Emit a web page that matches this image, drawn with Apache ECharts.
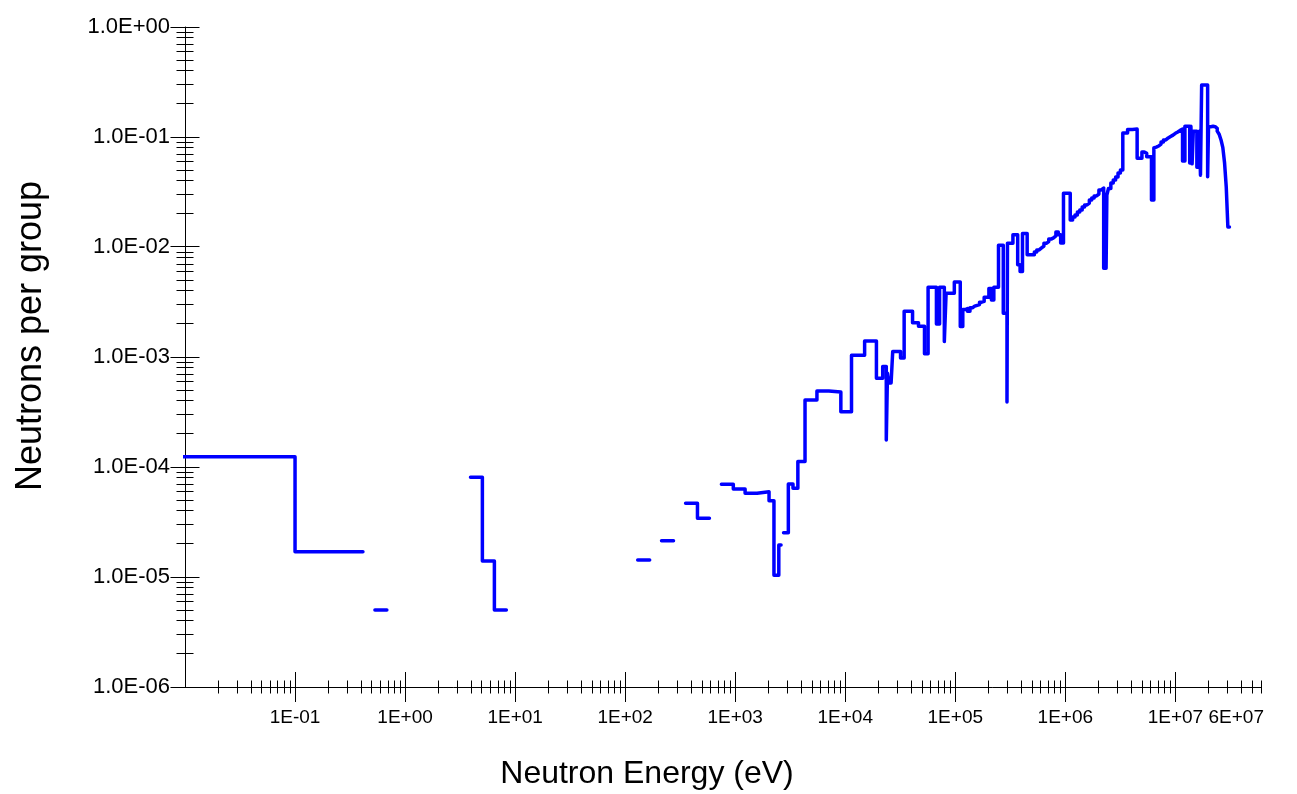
<!DOCTYPE html>
<html>
<head>
<meta charset="utf-8">
<title>Neutrons per group</title>
<script src="https://cdn.jsdelivr.net/npm/echarts@6/dist/echarts.min.js"></script>
<style>
  html, body { margin: 0; padding: 0; background: #fff; }
  #chart { width: 1297px; height: 794px; }
</style>
</head>
<body>
<div id="chart"></div>
<script>
// Group spectrum: [lower group edge (eV), neutrons in the group]; 0 = empty group.
const spectrum = [
  [1e-5, 1.24e-4], [0.1, 1.70e-5], [0.414, 0], [0.532, 5.0e-6], [0.683, 0],
  [3.93, 8.05e-5], [5.04, 1.40e-5], [6.48, 5.0e-6], [8.32, 0],
  [130, 1.43e-5], [167, 0], [214, 2.14e-5], [275, 0], [354, 4.68e-5], [454, 3.42e-5], [583, 0],
  [749, 6.96e-5], [961, 6.3e-5], [1230, 5.77e-5], [1580, 5.96e-5], [2030, 4.94e-5],
  [2250, 1.04e-5], [2490, 1.95e-5], [2610, 0], [2750, 2.53e-5], [3040, 7.0e-5], [3350, 6.4e-5],
  [3710, 1.12e-4], [4310, 4.06e-4], [5530, 4.9e-4], [7100, 4.8e-4], [9120, 3.18e-4],
  [1.14e4, 1.04e-3], [1.5e4, 1.40e-3], [1.92e4, 6.4e-4], [2.19e4, 8.2e-4], [2.36e4, 1.76e-4],
  [2.42e4, 7.1e-4], [2.48e4, 5.8e-4], [2.61e4, 5.6e-4], [2.70e4, 1.12e-3], [2.85e4, 1.12e-3],
  [3.18e4, 9.8e-4], [3.43e4, 2.6e-3], [4.09e4, 2.05e-3], [4.63e4, 1.9e-3], [5.25e4, 1.07e-3],
  [5.66e4, 4.3e-3], [6.74e4, 2.0e-3], [7.20e4, 4.3e-3], [7.95e4, 1.38e-3], [8.25e4, 3.8e-3],
  [8.65e4, 3.8e-3], [9.80e4, 4.8e-3], [1.11e5, 1.89e-3], [1.17e5, 2.7e-3], [1.23e5, 2.75e-3],
  [1.29e5, 2.6e-3], [1.36e5, 2.8e-3], [1.43e5, 2.9e-3], [1.50e5, 2.95e-3], [1.58e5, 3.0e-3],
  [1.66e5, 3.15e-3], [1.74e5, 3.2e-3], [1.83e5, 3.5e-3], [1.93e5, 3.5e-3], [2.02e5, 4.2e-3],
  [2.13e5, 3.3e-3], [2.24e5, 4.3e-3], [2.35e5, 4.3e-3], [2.47e5, 1.04e-2], [2.73e5, 2.5e-3],
  [2.95e5, 3.9e-4], [2.98e5, 1.08e-2], [3.34e5, 1.29e-2], [3.69e5, 6.9e-3], [3.88e5, 6.0e-3],
  [4.08e5, 1.33e-2], [4.50e5, 8.5e-3], [4.98e5, 8.5e-3], [5.23e5, 9.0e-3], [5.50e5, 9.4e-3],
  [5.78e5, 9.8e-3], [6.08e5, 1.02e-2], [6.39e5, 1.08e-2], [6.72e5, 1.12e-2], [7.07e5, 1.18e-2],
  [7.43e5, 1.21e-2], [7.81e5, 1.26e-2], [8.21e5, 1.37e-2], [8.63e5, 1.29e-2], [9.07e5, 1.09e-2],
  [9.62e5, 3.08e-2], [1.003e6, 3.08e-2], [1.108e6, 1.76e-2], [1.165e6, 1.87e-2], [1.225e6, 1.95e-2],
  [1.287e6, 2.08e-2], [1.353e6, 2.17e-2], [1.423e6, 2.31e-2], [1.496e6, 2.41e-2], [1.572e6, 2.51e-2],
  [1.653e6, 2.67e-2], [1.738e6, 2.79e-2], [1.827e6, 2.91e-2], [1.921e6, 3.03e-2], [2.019e6, 3.3e-2],
  [2.122e6, 3.44e-2], [2.231e6, 6.4e-3], [2.307e6, 6.4e-3], [2.346e6, 6.4e-3], [2.385e6, 2.97e-2],
  [2.466e6, 3.4e-2], [2.592e6, 3.82e-2], [2.725e6, 4.07e-2], [2.865e6, 4.33e-2], [3.012e6, 4.71e-2],
  [3.166e6, 5.0e-2], [3.329e6, 0.109], [3.679e6, 0.117], [4.066e6, 0.118], [4.493e6, 0.064],
  [4.724e6, 0.064], [4.966e6, 0.073], [5.220e6, 0.071], [5.488e6, 0.066], [5.769e6, 0.066],
  [6.065e6, 0.0267], [6.376e6, 0.0795], [6.592e6, 0.081], [6.703e6, 0.0828], [7.047e6, 0.0863],
  [7.408e6, 0.090], [7.788e6, 0.094], [8.187e6, 0.098], [8.607e6, 0.101], [9.048e6, 0.104],
  [9.512e6, 0.108], [1.0e7, 0.111], [1.052e7, 0.115], [1.105e7, 0.118], [1.162e7, 0.0605],
  [1.221e7, 0.125], [1.284e7, 0.125], [1.350e7, 0.058], [1.384e7, 0.125], [1.419e7, 0.057],
  [1.455e7, 0.113], [1.492e7, 0.113], [1.568e7, 0.053], [1.649e7, 0.113], [1.691e7, 0.045],
  [1.733e7, 0.297], [1.964e7, 0.0436], [2.0e7, 0.124], [2.1e7, 0.125], [2.2e7, 0.124],
  [2.3e7, 0.120], [2.4e7, 0.113], [2.5e7, 0.106], [2.6e7, 0.094], [2.7e7, 0.080],
  [2.8e7, 0.058], [2.9e7, 0.035], [3.0e7, 0.0152]
];
const topEdge = 3.1e7;

// Axis ranges and tick positions
const energyRange = [1e-2, 6e7];
const countRange = [1e-6, 1];
const energyMajorTicks = [1e-1, 1e0, 1e1, 1e2, 1e3, 1e4, 1e5, 1e6, 1e7];
const countMajorTicks = [1e-6, 1e-5, 1e-4, 1e-3, 1e-2, 1e-1, 1e0];
const minorSteps = [2, 3, 4, 5, 6, 7, 8, 9];

// Histogram outline: horizontal run per group, verticals between neighbours, breaks at empty groups
function histogramPoints(groups, lastEdge) {
  const pts = [];
  for (let i = 0; i < groups.length; i++) {
    const lo = groups[i][0];
    const hi = i + 1 < groups.length ? groups[i + 1][0] : lastEdge;
    const v = groups[i][1];
    if (v > 0) {
      pts.push([lo, v], [hi, v]);
    } else {
      pts.push([lo, '-']);
    }
  }
  return pts;
}

function minorTicksIn(range) {
  const out = [];
  const d0 = Math.floor(Math.log10(range[0]) + 1e-9);
  const d1 = Math.ceil(Math.log10(range[1]) - 1e-9);
  for (let d = d0; d <= d1; d++) {
    minorSteps.forEach(function (k) {
      const v = k * Math.pow(10, d);
      if (v > range[0] && v <= range[1] * 1.0001) out.push(v);
    });
  }
  return out;
}

function expLabel(v, digits) {
  const e = Math.floor(Math.log10(v) + 1e-6);
  const m = v / Math.pow(10, e);
  const mant = digits > 0 ? m.toFixed(digits) : String(Math.round(m));
  return mant + 'E' + (e < 0 ? '-' : '+') + String(Math.abs(e)).padStart(2, '0');
}

const FONT = '"Liberation Sans", Arial, Helvetica, sans-serif';

// x ticks sit on the bottom axis, y ticks on the left axis; both cross the axis line
const xTickData = energyMajorTicks.map(v => [v, countRange[0], 30])
  .concat(minorTicksIn(energyRange).map(v => [v, countRange[0], 13]));
const yTickData = countMajorTicks.map(v => [energyRange[0], v, 29])
  .concat(minorTicksIn([countRange[0], countRange[1] * 0.99]).map(v => [energyRange[0], v, 17]));

function crisp(p) { return Math.round(p - 0.5) + 0.5; }

const chart = echarts.init(document.getElementById('chart'), null, { renderer: 'canvas' });
chart.setOption({
  animation: false,
  backgroundColor: '#ffffff',
  grid: { left: 185, top: 27, right: 36, bottom: 107, outerBoundsMode: 'none' },
  xAxis: {
    type: 'log', logBase: 10,
    min: energyRange[0], max: energyRange[1],
    splitNumber: 10,
    axisLine: { show: true, lineStyle: { color: '#000', width: 1 } },
    axisTick: { show: false },
    minorTick: { show: false },
    splitLine: { show: false },
    axisLabel: {
      show: true, margin: 21, color: '#000', fontSize: 19, fontFamily: FONT,
      showMinLabel: false, showMaxLabel: false, hideOverlap: false,
      formatter: v => expLabel(v, 0)
    }
  },
  yAxis: {
    type: 'log', logBase: 10,
    min: countRange[0], max: countRange[1],
    splitNumber: 6,
    axisLine: { show: true, lineStyle: { color: '#000', width: 1 } },
    axisTick: { show: false },
    minorTick: { show: false },
    splitLine: { show: false },
    axisLabel: {
      show: true, margin: 15, color: '#000', fontSize: 22, fontFamily: FONT,
      showMinLabel: true, showMaxLabel: true,
      formatter: v => expLabel(v, 1)
    }
  },
  graphic: [
    {
      id: 'xName', type: 'text', x: 647, y: 774, silent: true,
      style: { text: 'Neutron Energy (eV)', font: '32px ' + FONT, fill: '#000', align: 'center', verticalAlign: 'middle' }
    },
    {
      id: 'yName', type: 'text', x: 31, y: 336, rotation: Math.PI / 2, silent: true,
      style: { text: 'Neutrons per group', font: '36px ' + FONT, fill: '#000', align: 'center', verticalAlign: 'middle' }
    }
  ],
  series: [
    {
      type: 'custom', name: 'xTicks', silent: true, clip: false, z: 3,
      data: xTickData, encode: { x: 0, y: 1 },
      renderItem: function (params, api) {
        const p = api.coord([api.value(0), api.value(1)]);
        const h = api.value(2) / 2;
        const x = crisp(p[0]);
        return { type: 'line', shape: { x1: x, y1: p[1] - h, x2: x, y2: p[1] + h }, style: { stroke: '#000', lineWidth: 1 } };
      }
    },
    {
      type: 'custom', name: 'yTicks', silent: true, clip: false, z: 3,
      data: yTickData, encode: { x: 0, y: 1 },
      renderItem: function (params, api) {
        const p = api.coord([api.value(0), api.value(1)]);
        const h = api.value(2) / 2;
        const y = crisp(p[1]);
        return { type: 'line', shape: { x1: p[0] - h, y1: y, x2: p[0] + h, y2: y }, style: { stroke: '#000', lineWidth: 1 } };
      }
    },
    {
      type: 'line', name: 'Neutrons per group', z: 5,
      data: histogramPoints(spectrum, topEdge),
      showSymbol: false, symbol: 'none', connectNulls: false, clip: true,
      lineStyle: { color: '#0000ff', width: 3.5, cap: 'round', join: 'round' },
      emphasis: { disabled: true }
    }
  ]
});

// Label for the upper end of the energy axis, set just past the axis end
const endPt = chart.convertToPixel({ xAxisIndex: 0, yAxisIndex: 0 }, [energyRange[1], countRange[0]]);
chart.setOption({
  graphic: [{
    id: 'xMaxLabel', type: 'text', x: endPt[0] + 3, y: endPt[1] + 31, silent: true,
    style: { text: expLabel(energyRange[1], 0), font: '19px ' + FONT, fill: '#000', align: 'right', verticalAlign: 'middle' }
  }]
});
</script>
</body>
</html>
